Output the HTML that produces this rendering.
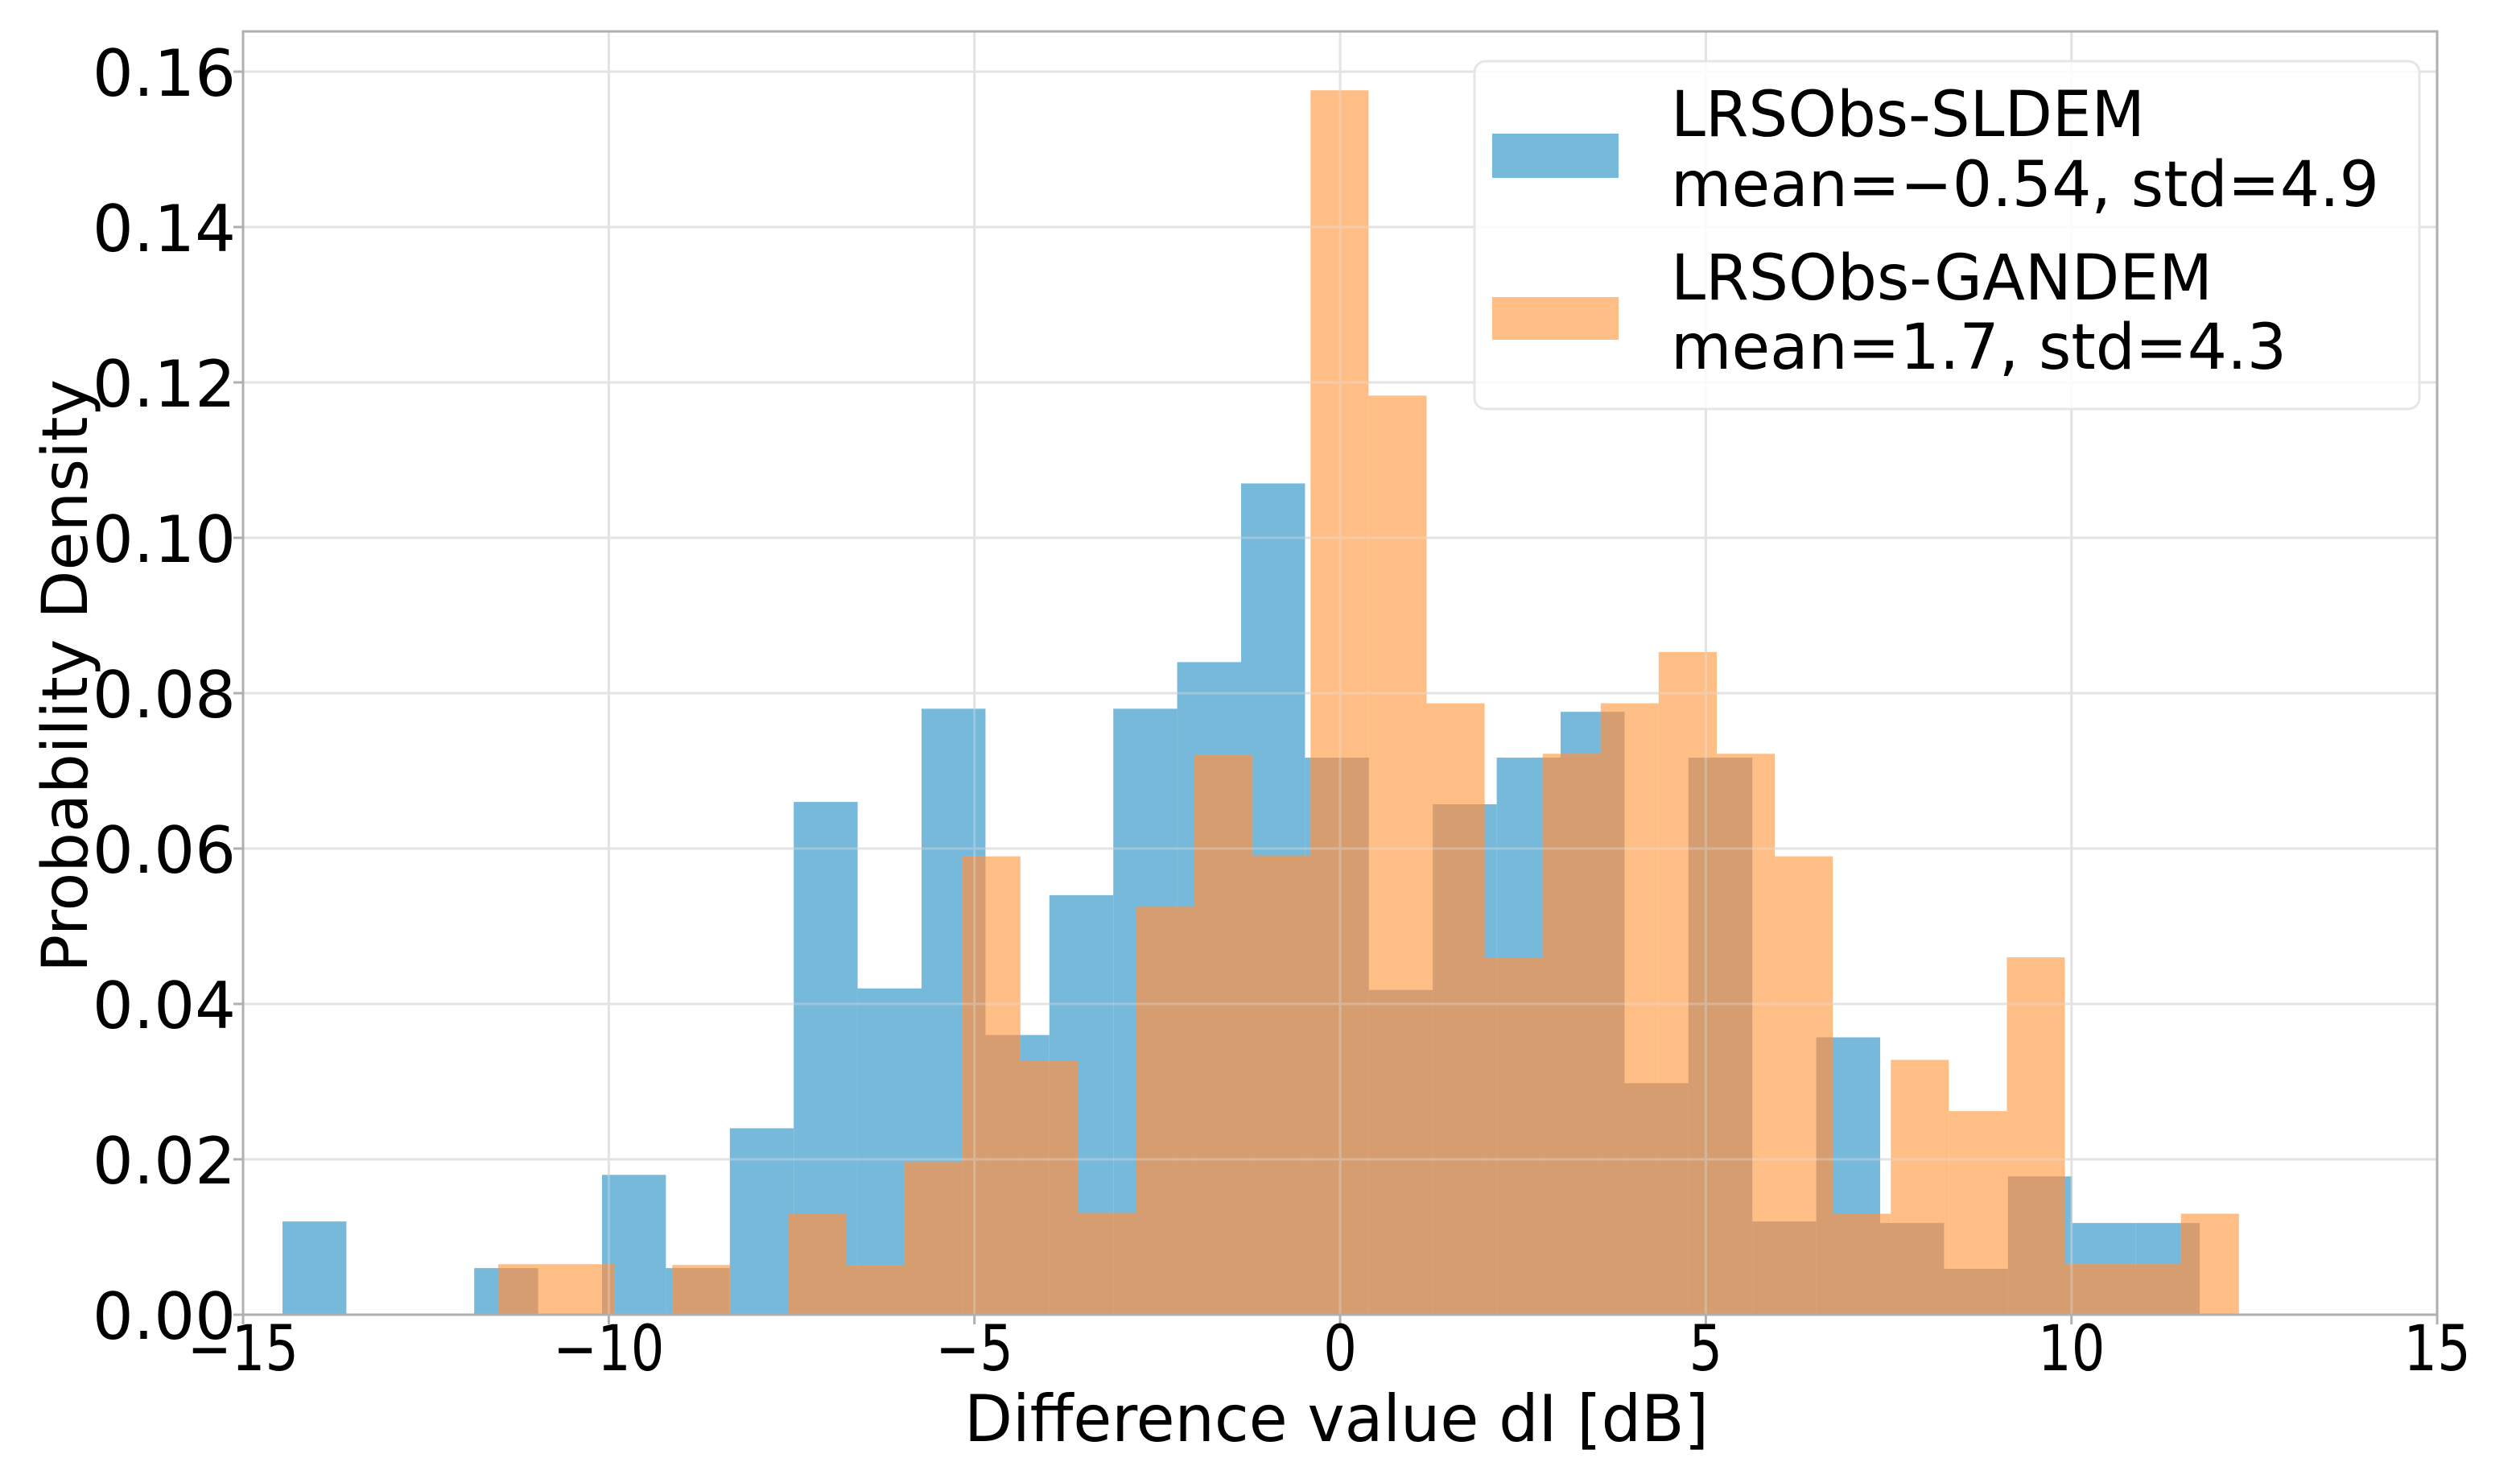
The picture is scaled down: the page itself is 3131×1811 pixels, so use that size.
<!DOCTYPE html>
<html><head><meta charset="utf-8"><style>
html,body{margin:0;padding:0;background:#fff;}
svg{display:block;}
text{font-family:"DejaVu Sans","Liberation Sans",sans-serif;fill:#000;}
</style></head><body>
<svg id="chart" width="3131" height="1811" viewBox="0 0 3131 1811" xmlns="http://www.w3.org/2000/svg">
<g id="grid"></g>
<g id="bars"></g>
<g id="grid2" opacity="0.35"></g>
<rect x="302" y="39" width="2726" height="1594" fill="none" stroke="#b0b0b0" stroke-width="3"/>
<g id="ticks"></g>
<text x="1198" y="1790" font-size="80" textLength="925" lengthAdjust="spacingAndGlyphs">Difference value dI [dB]</text>
<text transform="translate(108,1208) rotate(-90)" font-size="78" textLength="737" lengthAdjust="spacingAndGlyphs">Probability Density</text>
<g>
<rect x="1832" y="76" width="1174" height="432" rx="14" fill="#fff" fill-opacity="0.85" stroke="#e6e6e6" stroke-width="3"/>
<rect x="1854" y="166" width="157" height="55" fill="#77b9db"/>
<rect x="1854" y="369" width="157" height="53" fill="#ffbe86"/>
<text x="2076" y="169" font-size="78" textLength="589" lengthAdjust="spacingAndGlyphs">LRSObs-SLDEM</text>
<text x="2076" y="256" font-size="78" textLength="880" lengthAdjust="spacingAndGlyphs">mean=−0.54, std=4.9</text>
<text x="2076" y="372" font-size="78" textLength="673" lengthAdjust="spacingAndGlyphs">LRSObs-GANDEM</text>
<text x="2076" y="458" font-size="78" textLength="765" lengthAdjust="spacingAndGlyphs">mean=1.7, std=4.3</text>
</g>
</svg>
<script>
const blueStart = -14.461, blueWidth = 0.8738;
const blueValues = [0.012,0,0,0.006,0,0.018,0.006,0.024,0.066,0.042,0.078,0.036,0.054,0.078,0.084,0.107,0.0717,0.0418,0.0657,0.0717,0.0776,0.0298,0.0717,0.012,0.0357,0.0118,0.0059,0.0178,0.0118,0.0118];
const orangeStart = -11.512, orangeWidth = 0.7934;
const orangeValues = [0.0065,0.0065,0,0.0064,0,0.013,0.0064,0.0197,0.059,0.0327,0.0131,0.0525,0.0721,0.0591,0.1576,0.1183,0.0787,0.0459,0.0722,0.0787,0.0853,0.0722,0.059,0.013,0.0328,0.0262,0.046,0.0065,0.0065,0.013];
const xTicks = [-15,-10,-5,0,5,10,15];
const xTickLabels = ["−15","−10","−5","0","5","10","15"];
const yTicks = [0,0.02,0.04,0.06,0.08,0.10,0.12,0.14,0.16];
const yTickLabels = ["0.00","0.02","0.04","0.06","0.08","0.10","0.12","0.14","0.16"];

const NS="http://www.w3.org/2000/svg";
function X(v){return 302+(v+15)*90.87;}
function Y(v){return 1633-v*9650;}
function mk(tag,attrs,parent){const e=document.createElementNS(NS,tag);for(const k in attrs)e.setAttribute(k,attrs[k]);parent.appendChild(e);return e;}
const grid=document.getElementById('grid'),grid2=document.getElementById('grid2'),bars=document.getElementById('bars'),ticks=document.getElementById('ticks');
[grid,grid2].forEach(g=>{
  xTicks.forEach(t=>{const l=mk('line',{x1:X(t),x2:X(t),y1:39,y2:1633,stroke:'#e3e3e3','stroke-width':3},g);
    
    });
  yTicks.forEach(t=>{const l=mk('line',{x1:302,x2:3028,y1:Y(t),y2:Y(t),stroke:'#e3e3e3','stroke-width':3},g);
    
    });
});
blueValues.forEach((v,i)=>{if(v<=0)return;const x0=X(blueStart+i*blueWidth),x1=X(blueStart+(i+1)*blueWidth);
  const r=mk('rect',{x:x0,y:Y(v),width:x1-x0,height:Y(0)-Y(v),fill:'#77b9db'},bars);
  
  });
orangeValues.forEach((v,i)=>{if(v<=0)return;const x0=X(orangeStart+i*orangeWidth),x1=X(orangeStart+(i+1)*orangeWidth);
  const r=mk('rect',{x:x0,y:Y(v),width:x1-x0,height:Y(0)-Y(v),fill:'#ffbe86'},bars);
  
  });
blueValues.forEach((bv,i)=>{const b0=blueStart+i*blueWidth,b1=b0+blueWidth;
  orangeValues.forEach((ov,j)=>{const o0=orangeStart+j*orangeWidth,o1=o0+orangeWidth;
    const a=Math.max(b0,o0),b=Math.min(b1,o1),h=Math.min(bv,ov);
    if(b>a&&h>0){const r=mk('rect',{x:X(a),y:Y(h),width:X(b)-X(a),height:Y(0)-Y(h),fill:'#d59d70'},bars);
      
      }});});
xTicks.forEach((t,i)=>{
  const l=mk('line',{x1:X(t),x2:X(t),y1:1633,y2:1645,stroke:'#b0b0b0','stroke-width':3},ticks);
  
  
  const tx=mk('text',{x:X(t),y:1702,'font-size':78,'text-anchor':'middle',transform:'translate('+X(t)+',0) scale(0.84,1) translate('+(-X(t))+',0)'},ticks);
  tx.textContent=xTickLabels[i];
  
  });
yTicks.forEach((t,i)=>{
  const l=mk('line',{x1:290,x2:302,y1:Y(t),y2:Y(t),stroke:'#b0b0b0','stroke-width':3},ticks);
  
  
  const tx=mk('text',{x:293,y:Y(t)+30,'font-size':80,'text-anchor':'end'},ticks);
  tx.textContent=yTickLabels[i];
  
  });
</script>
</body></html>
